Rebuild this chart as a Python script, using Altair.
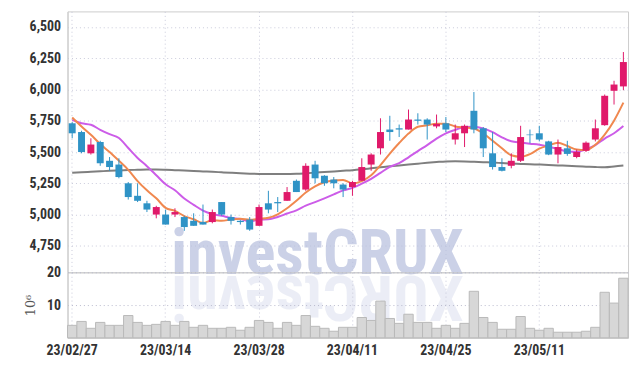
import altair as alt
import pandas as pd

dates = ["23/02/27", "23/02/28", "23/03/02", "23/03/03", "23/03/06", "23/03/07", "23/03/08", "23/03/09", "23/03/10", "23/03/13",
         "23/03/14", "23/03/15", "23/03/16", "23/03/17", "23/03/20", "23/03/21", "23/03/22", "23/03/23", "23/03/24", "23/03/27",
         "23/03/28", "23/03/29", "23/03/30", "23/03/31", "23/04/03", "23/04/04", "23/04/05", "23/04/06", "23/04/07", "23/04/10",
         "23/04/11", "23/04/12", "23/04/13", "23/04/14", "23/04/17", "23/04/18", "23/04/19", "23/04/20", "23/04/21", "23/04/24",
         "23/04/25", "23/04/26", "23/04/27", "23/04/28", "23/05/02", "23/05/03", "23/05/04", "23/05/08", "23/05/09", "23/05/10",
         "23/05/11", "23/05/12", "23/05/15", "23/05/16", "23/05/17", "23/05/18", "23/05/19", "23/05/22", "23/05/23", "23/05/24"]

opens = [5730, 5660, 5490, 5580, 5430, 5400, 5250, 5150, 5090, 5000,
         5000, 5000, 4980, 4950, 4940, 4940, 5100, 4980, 4950, 4960,
         4910, 5090, 5100, 5110, 5270, 5200, 5400, 5310, 5280, 5240,
         5220, 5270, 5400, 5530, 5680, 5690, 5680, 5760, 5760, 5705,
         5730, 5600, 5650, 5830, 5690, 5490, 5380, 5390, 5430, 5640,
         5650, 5585, 5480, 5530, 5460, 5510, 5600, 5715, 5990, 6025]
highs = [5740, 5670, 5610, 5590, 5460, 5450, 5260, 5250, 5110, 5070,
         5040, 5050, 4990, 5010, 5080, 5040, 5100, 5000, 4955, 4980,
         5080, 5190, 5140, 5220, 5280, 5410, 5430, 5315, 5300, 5250,
         5270, 5450, 5490, 5770, 5790, 5720, 5840, 5810, 5770, 5800,
         5780, 5720, 5720, 5980, 5700, 5660, 5450, 5490, 5710, 5680,
         5710, 5590, 5600, 5590, 5520, 5585, 5760, 5960, 6070, 6300]
lows = [5610, 5490, 5480, 5390, 5350, 5290, 5120, 5100, 5020, 4970,
        4920, 4980, 4870, 4910, 4920, 4930, 4990, 4920, 4920, 4870,
        4910, 5010, 5020, 5110, 5180, 5190, 5250, 5230, 5210, 5140,
        5150, 5270, 5350, 5480, 5590, 5620, 5680, 5720, 5600, 5690,
        5660, 5560, 5540, 5650, 5460, 5360, 5345, 5370, 5420, 5570,
        5585, 5475, 5410, 5470, 5450, 5500, 5585, 5710, 5880, 5995]
closes = [5650, 5500, 5560, 5410, 5380, 5300, 5140, 5110, 5040, 5060,
          4920, 5020, 4900, 4910, 4920, 5020, 5000, 4950, 4940, 4880,
          5060, 5040, 5090, 5180, 5180, 5390, 5290, 5250, 5250, 5200,
          5260, 5380, 5480, 5660, 5660, 5680, 5760, 5750, 5720, 5725,
          5680, 5650, 5710, 5680, 5530, 5380, 5350, 5430, 5620, 5635,
          5600, 5480, 5540, 5485, 5500, 5575, 5690, 5950, 6040, 6220]
ma5 = [5776, 5704, 5638, 5564, 5500, 5430, 5358, 5268, 5194, 5130,
       5054, 5030, 4988, 4962, 4934, 4954, 4950, 4960, 4966, 4958,
       4966, 4974, 5002, 5050, 5110, 5176, 5226, 5258, 5272, 5276,
       5250, 5268, 5314, 5396, 5488, 5572, 5648, 5702, 5714, 5727,
       5727, 5705, 5697, 5689, 5650, 5590, 5530, 5474, 5462, 5483,
       5527, 5553, 5575, 5548, 5521, 5516, 5558, 5640, 5751, 5895]
ma10 = [5757, 5730, 5718, 5678, 5643, 5612, 5532, 5453, 5387, 5315,
        5242, 5194, 5128, 5078, 5032, 5004, 4990, 4974, 4964, 4946,
        4960, 4962, 4981, 5008, 5034, 5071, 5100, 5130, 5161, 5193,
        5213, 5247, 5286, 5334, 5382, 5411, 5458, 5508, 5555, 5608,
        5650, 5677, 5700, 5702, 5689, 5659, 5618, 5586, 5576, 5567,
        5559, 5542, 5525, 5505, 5502, 5522, 5556, 5608, 5650, 5708]
ma60 = [5335, 5338, 5342, 5346, 5350, 5353, 5356, 5358, 5360, 5360,
        5358, 5355, 5352, 5348, 5345, 5342, 5338, 5334, 5330, 5327,
        5325, 5324, 5324, 5325, 5326, 5330, 5335, 5340, 5345, 5350,
        5355, 5362, 5370, 5378, 5386, 5393, 5400, 5407, 5414, 5420,
        5425, 5426, 5425, 5422, 5419, 5416, 5412, 5408, 5405, 5402,
        5400, 5397, 5393, 5390, 5386, 5383, 5380, 5378, 5384, 5392]
volumes = [3.8, 5.0, 2.9, 4.7, 3.8, 3.8, 6.8, 4.7, 3.8, 4.1,
           5.0, 3.8, 5.0, 3.2, 3.8, 2.9, 2.9, 3.2, 2.3, 3.2,
           5.3, 4.7, 2.9, 4.7, 3.8, 6.8, 3.5, 2.9, 2.0, 3.2,
           3.2, 6.2, 5.3, 11.2, 5.9, 4.4, 7.2, 4.7, 4.7, 2.9,
           3.8, 2.9, 4.4, 14.2, 6.2, 4.7, 2.6, 2.6, 6.5, 2.9,
           2.3, 2.9, 1.7, 1.7, 1.7, 2.0, 3.2, 13.9, 10.6, 18.2]

tick_dates = ["23/02/27", "23/03/14", "23/03/28", "23/04/11", "23/04/25", "23/05/11"]
price_ticks = [4750, 5000, 5250, 5500, 5750, 6000, 6250, 6500]
vol_ticks = [10, 20]

df = pd.DataFrame({
    "date": dates, "open": opens, "high": highs, "low": lows, "close": closes,
    "ma5": ma5, "ma10": ma10, "ma60": ma60, "vol": volumes,
})
df["dir"] = ["up" if c >= o else "down" for o, c in zip(opens, closes)]

FONT = "Liberation Sans Narrow, Roboto Condensed, DejaVu Sans Condensed, Roboto, sans-serif"
GRID = "#c9cadb"
UP = "#e0196a"
DOWN = "#2f93c6"
W = 565
H1 = 263
H2 = 66

xscale = alt.Scale(paddingInner=0, paddingOuter=0)
x_price = alt.X("date:O", sort=None, scale=xscale,
                axis=alt.Axis(values=tick_dates, labels=False, ticks=False, domain=False,
                              grid=True, gridDash=[1, 3], gridColor=GRID, title=None, bandPosition=0.5))
yscale = alt.Scale(domain=[4538, 6625], nice=False, zero=False)
yaxis = alt.Axis(values=price_ticks, format=",.0f", title=None, ticks=False, domain=True,
                 domainColor="#cccccc", labelFont=FONT, labelFontSize=14, labelFontWeight="bold",
                 labelColor="#333333", labelPadding=7, grid=True, gridDash=[1, 3], gridColor=GRID)

base = alt.Chart(df)

wm = alt.Chart(df.head(1)).mark_text(
    text="investCRUX", font=FONT, fontSize=63, fontWeight="bold", color="#bac2df",
    opacity=0.75, align="center", baseline="alphabetic"
).encode(x=alt.value(252), y=alt.value(265))
wm_ref = alt.Chart(df.head(1)).mark_text(
    text="XURCtsevni", font=FONT, fontSize=63, fontWeight="bold", color="#bac2df",
    opacity=0.28, align="center", baseline="alphabetic", angle=180
).encode(x=alt.value(252), y=alt.value(267))

line60 = base.mark_line(color="#7f7f7f", strokeWidth=2, interpolate="monotone").encode(
    x=x_price, y=alt.Y("ma60:Q", scale=yscale, axis=yaxis))
line10 = base.mark_line(color="#cc5ce8", strokeWidth=2, interpolate="monotone").encode(
    x=x_price, y=alt.Y("ma10:Q", scale=yscale, axis=yaxis))
line5 = base.mark_line(color="#f0884f", strokeWidth=2, interpolate="monotone").encode(
    x=x_price, y=alt.Y("ma5:Q", scale=yscale, axis=yaxis))

color = alt.Color("dir:N", scale=alt.Scale(domain=["up", "down"], range=[UP, DOWN]), legend=None)
wick = base.mark_rule(strokeWidth=1).encode(
    x=x_price, y=alt.Y("low:Q", scale=yscale, axis=yaxis), y2="high:Q", color=color)
body = base.mark_bar(size=7).encode(
    x=x_price, y=alt.Y("open:Q", scale=yscale, axis=yaxis), y2="close:Q", color=color)

price = alt.layer(wm, wm_ref, line60, line10, line5, wick, body).properties(width=W, height=H1)

x_vol = alt.X("date:O", sort=None, scale=xscale,
              axis=alt.Axis(values=tick_dates, ticks=False, domain=True, domainColor="#cccccc",
                            labelAngle=0, labelFont=FONT, labelFontSize=14, labelFontWeight="bold",
                            labelColor="#333333", labelPadding=6,
                            grid=True, gridDash=[1, 3], gridColor=GRID, title=None, bandPosition=0.5))
vol = base.mark_bar(fill="#d7d7d7", stroke="#b9b9b9", strokeWidth=1).encode(
    x=x_vol,
    y=alt.Y("vol:Q", scale=alt.Scale(domain=[0, 20], nice=False),
            axis=alt.Axis(values=vol_ticks, title="10⁶", titleFont="DejaVu Serif", titleFontWeight="normal",
                          titleFontSize=13, titleColor="#555555", titlePadding=9,
                          ticks=False, domain=True, domainColor="#cccccc", labelFont=FONT,
                          labelFontSize=14, labelFontWeight="bold", labelColor="#333333", labelPadding=7,
                          grid=True, gridDash=[1, 3], gridColor="#b8b9cc"))
).properties(width=W, height=H2)

chart = alt.vconcat(price, vol, spacing=0, bounds="flush").properties(
    padding={"left": 16, "top": 1, "right": 5, "bottom": 5}
).configure_view(stroke="#cccccc", strokeWidth=1)

chart.save("out.html", embed_options={"renderer": "svg", "actions": False})
